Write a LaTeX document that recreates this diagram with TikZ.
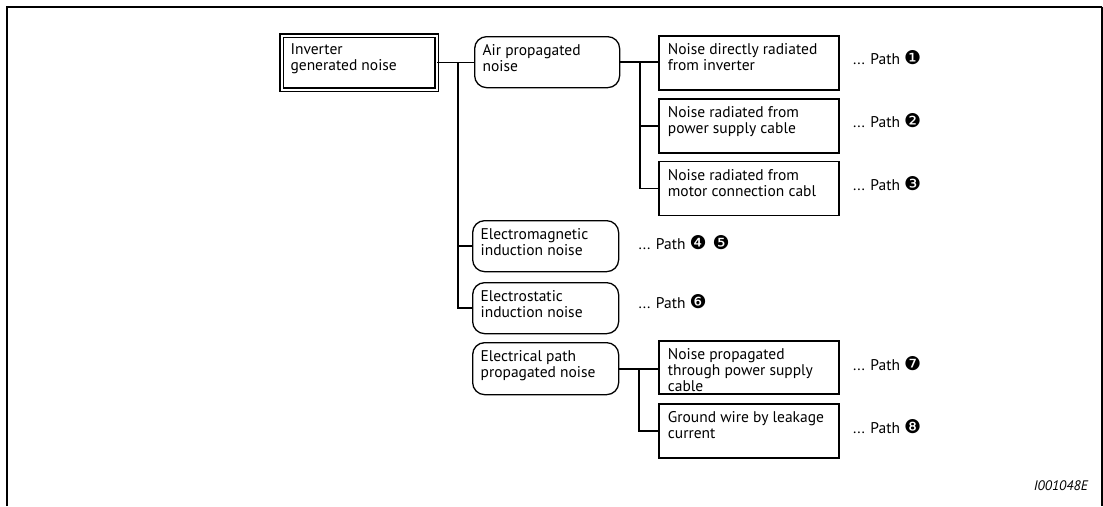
\documentclass[tikz,border=0pt]{standalone}
\usepackage{fontspec}
\setmainfont{PT Sans}
\newfontfamily\dingfont{DejaVu Sans}
\usetikzlibrary{positioning}
\newcommand{\boxtext}[3]{\parbox[c][#2][t]{#1}{\raggedright\rule{0pt}{19pt}#3}}
\newcommand{\pathref}[1]{... Path {\dingfont\fontsize{19}{19}\selectfont #1}}

\begin{document}
\begin{tikzpicture}[
    x=1pt, y=-1pt,
    font=\fontsize{15.5}{16}\selectfont,
    mainbox/.style={rectangle,draw,double,double distance=2pt,line width=1.1pt,
      inner xsep=9pt,inner ysep=0pt,anchor=north west},
    groupbox/.style={rectangle,rounded corners=12pt,draw,line width=1.3pt,
      inner xsep=8pt,inner ysep=0pt,anchor=north west},
    sourcebox/.style={rectangle,draw,line width=1.8pt,
      inner xsep=9pt,inner ysep=0pt,anchor=north west},
    pathlabel/.style={inner sep=0pt,anchor=west},
    link/.style={line width=1.7pt}
  ]
    \useasboundingbox (0,0) rectangle (1103,506);
    % frame, open at the bottom
    \draw[line width=2pt] (7,506) -- (7,6.5) -- (1102,6.5);
    \draw[line width=1.3pt] (1102,6.5) -- (1102,506);

    \node[mainbox] (inv) at (281,35) {\boxtext{137pt}{54pt}{Inverter\\generated noise}};
    \node[groupbox] (air) at (474,36) {\boxtext{129pt}{51pt}{Air propagated\\noise}};
    \node[groupbox] (emag) at (472,220) {\boxtext{130pt}{51pt}{Electromagnetic\\induction noise}};
    \node[groupbox] (estat) at (472,282) {\boxtext{130pt}{51pt}{Electrostatic\\induction noise}};
    \node[groupbox] (elec) at (472,342) {\boxtext{130pt}{52pt}{Electrical path\\propagated noise}};

    \node[sourcebox] (rad1) at (658,35) {\boxtext{162pt}{54pt}{Noise directly radiated\\from inverter}};
    \node[sourcebox,below=7pt of rad1] (rad2) {\boxtext{162pt}{54pt}{Noise radiated from\\power supply cable}};
    \node[sourcebox,below=7pt of rad2] (rad3) {\boxtext{162pt}{54pt}{Noise radiated from\\motor connection cabl}};
    \node[sourcebox] (cond1) at (658,340) {\boxtext{162pt}{53pt}{Noise propagated\\through power supply\\cable}};
    \node[sourcebox,below=8pt of cond1] (cond2) {\boxtext{162pt}{54pt}{Ground wire by leakage\\current}};

    \node[pathlabel,right=13pt of rad1,yshift=5pt] (p1) {\pathref{❶}};
    \node[pathlabel,right=13pt of rad2,yshift=5pt] (p2) {\pathref{❷}};
    \node[pathlabel,right=13pt of rad3,yshift=5pt] (p3) {\pathref{❸}};
    \node[pathlabel,right=19pt of emag,yshift=4pt] (p45) {\pathref{❹ ❺}};
    \node[pathlabel,right=19pt of estat,yshift=7pt] (p6) {\pathref{❻}};
    \node[pathlabel,right=13pt of cond1,yshift=4pt] (p7) {\pathref{❼}};
    \node[pathlabel,right=13pt of cond2,yshift=4pt] (p8) {\pathref{❽}};

    \node[anchor=base east,inner sep=0pt,font=\fontsize{13.8}{14}\selectfont\itshape] (fig) at (1088,490) {I001048E};

    % tree connectors
    \coordinate (trunk) at (458,62);
    \coordinate (airfork) at (640,61.5);
    \coordinate (elecfork) at (639,368);
    \draw[link] (inv.east) -- (inv.east -| air.west);
    \draw[link] (trunk) |- (emag.west);
    \draw[link] (trunk) |- (estat.west);
    \draw[link] (air.east) -- (air.east -| rad1.west);
    \draw[link] (airfork) |- (rad2.west);
    \draw[link] (airfork) |- (rad3.west);
    \draw[link] (elec.east) -- (elec.east -| cond1.west);
    \draw[link] (elecfork) |- (cond2.west);
  \end{tikzpicture}
\end{document}
